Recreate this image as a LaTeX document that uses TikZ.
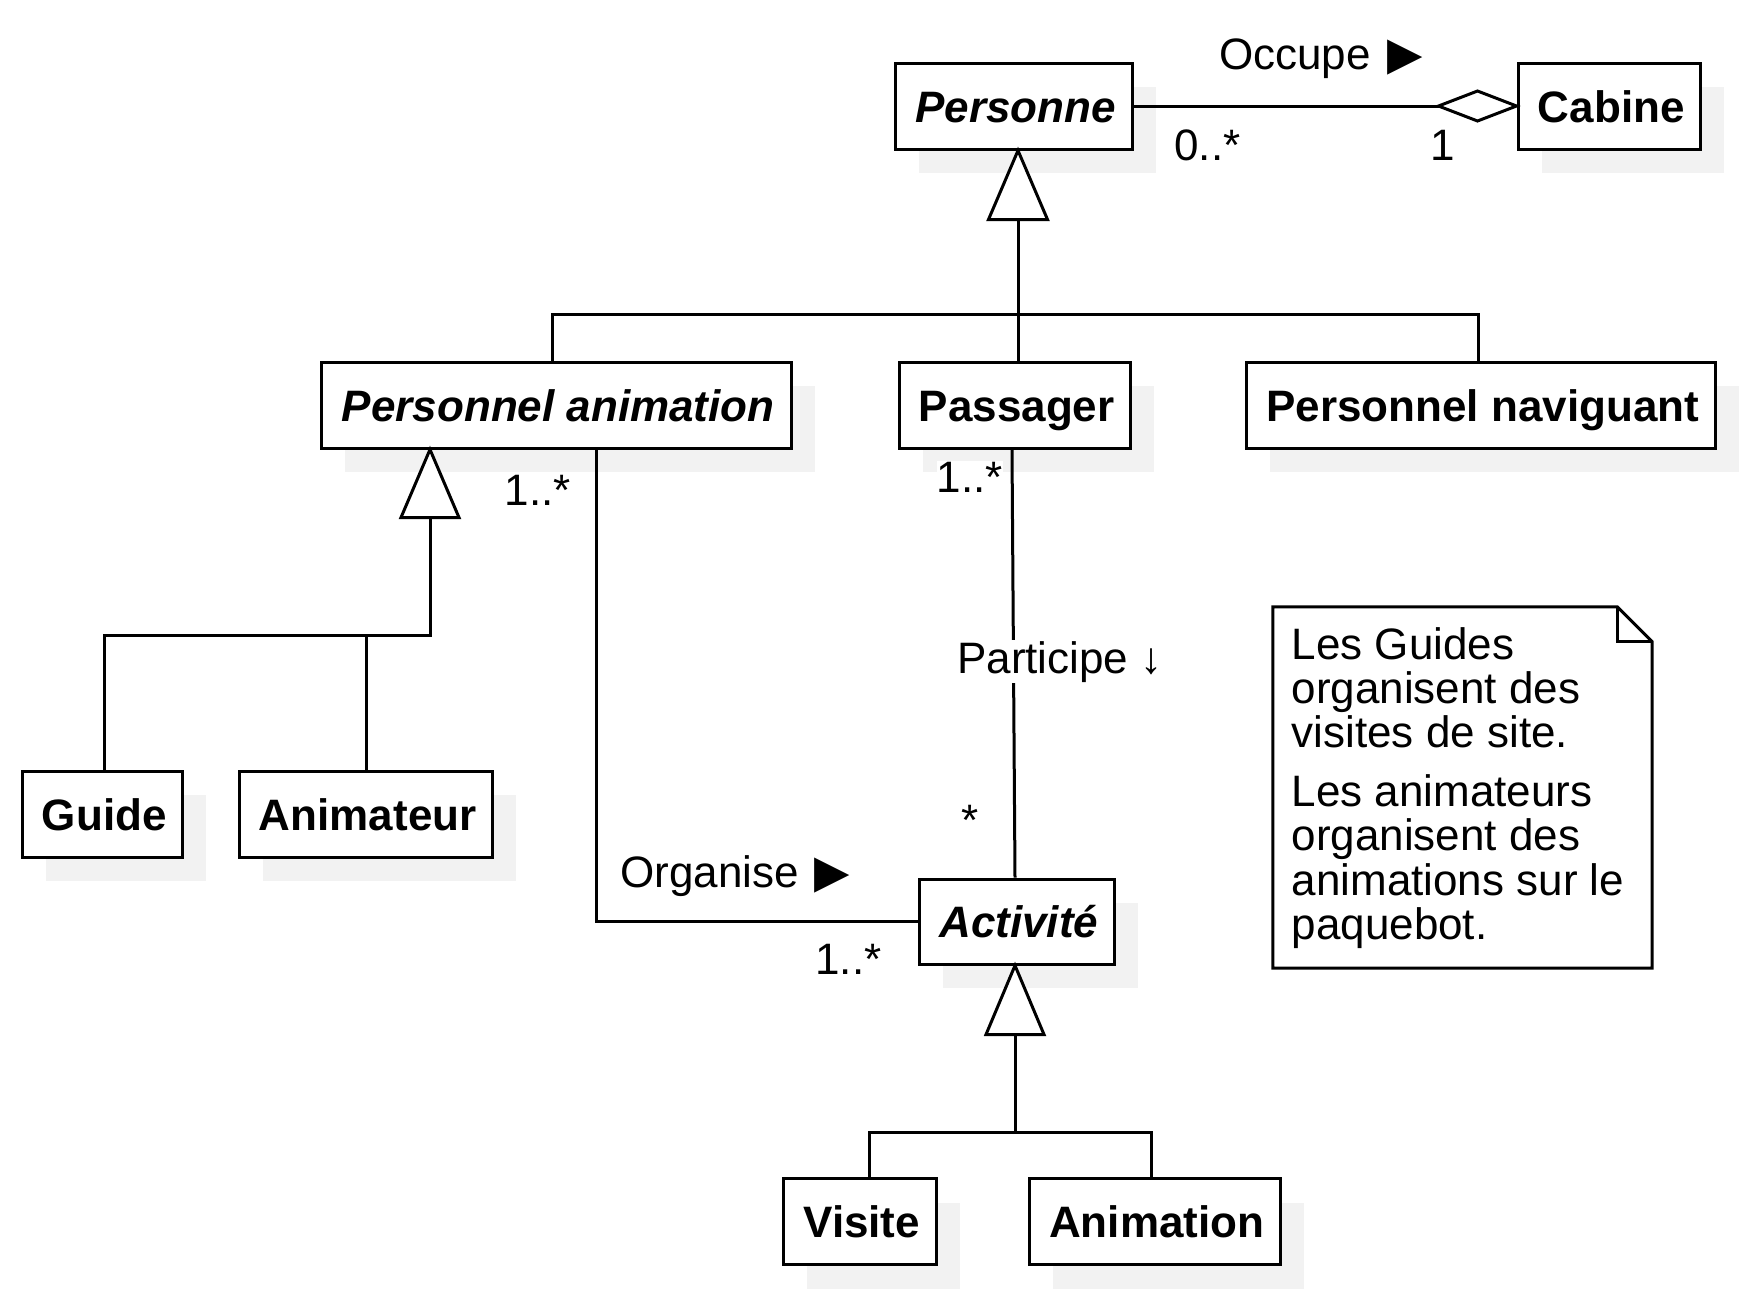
\documentclass[tikz,border=0pt]{standalone}
\usepackage{fontspec}
\setmainfont{Liberation Sans}
\newfontfamily\dejavu{DejaVu Sans}
\usetikzlibrary{shadows}
\definecolor{shadowgray}{HTML}{F2F2F2}
\newcommand{\tri}{\hspace{4pt}{\dejavu\fontsize{46}{46}\selectfont ▶}}
\tikzset{
  cls/.style={draw, line width=3pt, fill=white, inner sep=0pt, minimum height=86pt,
    text height=32pt, text depth=0pt, font=\fontsize{44}{44}\selectfont\bfseries,
    execute at begin node=\hspace*{4.5pt},
    general shadow={fill=shadowgray, draw=none, shadow xshift=24pt, shadow yshift=-24pt}},
  abscls/.style={cls, font=\fontsize{44}{44}\selectfont\bfseries\itshape},
  conn/.style={line width=3pt},
  gentri/.style={line width=3pt, fill=white, line join=miter},
  lbl/.style={font=\fontsize{44}{44}\selectfont, inner sep=0pt, anchor=base},
  wlbl/.style={lbl, fill=white, inner ysep=1pt},
  notetext/.style={font=\fontsize{44}{44.2}\selectfont, inner sep=0pt, align=left},
}
\begin{document}
\begin{tikzpicture}[x=1pt,y=-1pt]
\useasboundingbox (0,0) rectangle (1754,1310);
% classes
\node[abscls, minimum width=237pt] (pers) at (1013.5,106) {Personne};
\node[cls, minimum width=182pt] (cab) at (1609,106) {Cabine};
\node[abscls, minimum width=470pt] (pa) at (556,405) {Personnel animation};
\node[cls, minimum width=231pt] (ps) at (1014.5,405) {Passager};
\node[cls, minimum width=469pt] (pn) at (1480.5,405) {Personnel naviguant};
\node[cls, minimum width=160pt] (guide) at (102,814) {Guide};
\node[cls, minimum width=253pt] (anim) at (365.5,814) {Animateur};
\node[abscls, minimum width=195pt, minimum height=85pt] (act) at (1016.5,921.5) {Activité};
\node[cls, minimum width=153pt] (vis) at (859.5,1221.5) {Visite};
\node[cls, minimum width=251pt] (anm) at (1154.5,1221.5) {Animation};
% junctions
\coordinate (jP) at (1018,314);
\coordinate (jPA) at (552,314);
\coordinate (jPN) at (1478,314);
\coordinate (jA) at (430,635);
\coordinate (jG) at (104,635);
\coordinate (jAn) at (366,635);
\coordinate (jAc) at (1015,1132);
\coordinate (jV) at (869,1132);
\coordinate (jAm) at (1151,1132);
\coordinate (cO) at (596,921.5);
% generalisation Personne
\draw[conn] (pers.south -| jP) ++(0,69) -- (ps.north -| jP);
\draw[conn] (pa.north -| jPA) -- (jPA) -- (jPN) -- (pn.north -| jPN);
\draw[gentri] (pers.south -| jP) -- ++(-29.5,69) -- ++(59,0) -- cycle;
% generalisation Personnel animation
\draw[conn] (pa.south -| jA) ++(0,68) -- (jA) -- (jG) -- (guide.north -| jG);
\draw[conn] (jAn) -- (anim.north -| jAn);
\draw[gentri] (pa.south -| jA) -- ++(-29,68) -- ++(58,0) -- cycle;
% generalisation Activite
\draw[conn] (act.south -| jAc) ++(0,69) -- (jAc);
\draw[conn] (vis.north -| jV) -- (jV) -- (jAm) -- (anm.north -| jAm);
\draw[gentri] (act.south -| jAc) -- ++(-29,69) -- ++(58,0) -- cycle;
% Occupe
\draw[conn] (pers.east) -- ([xshift=-78pt]cab.west);
\draw[gentri] (cab.west) -- ++(-39,-15) -- ++(-39,15) -- ++(39,15) -- cycle;
% Organise
\draw[conn] (pa.south -| cO) -- (cO) -- (act.west);
% Participe
\draw[conn] ([xshift=-2.5pt]ps.south) -- ([xshift=-1.5pt]act.north);
% labels
\node[lbl, anchor=base west] (lOcc) at (1219,69) {Occupe \tri};
\node[lbl] (m1) at (1207.5,160) {0..*};
\node[lbl] (m2) at (1443,160) {1};
\node[lbl] (m3) at (538,505) {1..*};
\node[wlbl] (m4) at (970,492) {1..*};
\node[lbl] (m5) at (970,835) {*};
\node[lbl] (m6) at (848.5,974) {1..*};
\node[lbl, anchor=base west] (lOrg) at (620,887) {Organise \tri};
\node[wlbl, anchor=base west, inner xsep=0pt] (lPar) at (957,673) {Participe ↓};
% note
\node[minimum width=379pt, minimum height=361pt, inner sep=0pt] (note) at (1462.5,787.5) {};
\draw[conn, line join=miter] (note.north west) -- ([xshift=-35pt]note.north east) -- ([yshift=-35pt]note.north east) -- (note.south east) -- (note.south west) -- cycle;
\draw[conn] ([xshift=-35pt]note.north east) -- ++(0,35) -- ++(35,0);
\node[notetext, anchor=north west] (nt) at (1291.5,627) {Les Guides\\organisent des\\visites de site.\\[15pt]Les animateurs\\organisent des\\animations sur le\\paquebot.};
\end{tikzpicture}
\end{document}
